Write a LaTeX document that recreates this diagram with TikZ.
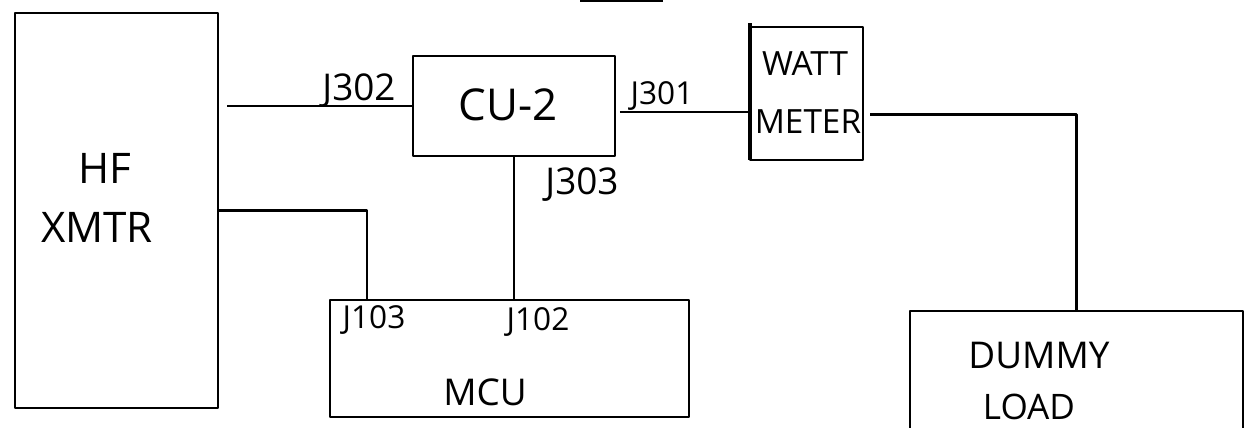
\documentclass[tikz,border=0pt]{standalone}
\usepackage{fontspec}
\setmainfont{Open Sans}
\usetikzlibrary{calc}

\tikzset{
  unit/.style={draw, line width=1.3pt, inner sep=0pt, outer sep=0pt},
  wire/.style={line width=1.2pt},
  lbl/.style={font=\fontsize{#1}{#1}\selectfont, inner sep=0pt},
}

\begin{document}
\begin{tikzpicture}[x=0.02cm, y=-0.02cm, line join=round]
  \clip (0,0) rectangle (1247,428);

  % Define coordinates
  \coordinate (xmtr_c) at (116.5, 210.5);
  \coordinate (cu_c) at (514, 106);
  \coordinate (watt_c) at (806.5, 93.5);
  \coordinate (mcu_c) at (509.5, 358.5);
  \coordinate (load_c) at (1076.5, 390.5);

  % Draw the units
  \node[unit, minimum width=4.06cm, minimum height=7.9cm] (xmtr) at (xmtr_c) {};
  \node[lbl=24] at (105, 168) {HF};
  \node[lbl=24] at (97, 227) {XMTR};

  \node[unit, minimum width=4.04cm, minimum height=2cm] (cu) at (cu_c) {};
  \node[lbl=25] at (508, 105) {CU-2};

  \node[unit, minimum width=2.26cm, minimum height=2.66cm] (watt) at (watt_c) {};
  \draw[line width=2.4pt] ([yshift=0.08cm]watt.north west) -- (watt.south west);
  \node[lbl=19] at (805, 64) {WATT};
  \node[lbl=19] at (808, 122) {METER};

  \node[unit, minimum width=7.18cm, minimum height=2.34cm] (mcu) at (mcu_c) {};
  \node[lbl=18] at (374, 320) {J103};
  \node[lbl=18] at (538, 322) {J102};
  \node[lbl=21] at (485, 392) {MCU};

  \node[unit, minimum width=6.66cm, minimum height=3.18cm] (load) at (load_c) {};
  \node[lbl=21] at (1039, 356) {DUMMY};
  \node[lbl=20] at (1029, 407) {LOAD};

  % Draw the cables
  \coordinate (j302_end) at (227, 106);
  \draw[wire] (cu.west) -- (j302_end);
  \node[lbl=21] at (359, 91) {J302};

  \coordinate (j301_start) at ($(cu.east)+(5,6)$);
  \draw[wire] (j301_start) -- (j301_start -| watt.west);
  \node[lbl=18] at (662, 96) {J301};

  \draw[wire] (cu.south) -- (cu.south |- mcu.north);
  \node[lbl=21] at (582, 185) {J303};

  \coordinate (j103_in) at (367, 300);
  \draw[wire] (xmtr.east) -| (j103_in);

  \coordinate (watt_out) at ($(watt.east)+(7,21)$);
  \draw[wire] (watt_out) -| (load.north);

  % Underline cut at the top edge
  \draw[wire] (580, 1) -- (663, 1);
\end{tikzpicture}
\end{document}
